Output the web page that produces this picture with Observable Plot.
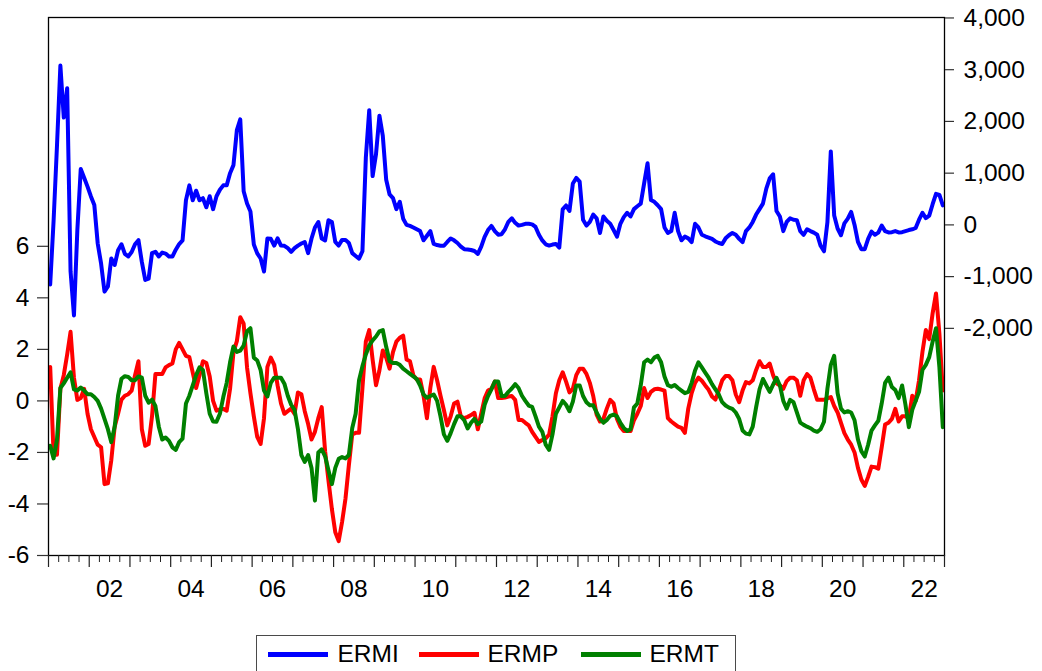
<!DOCTYPE html>
<html><head><meta charset="utf-8">
<script src="https://cdn.jsdelivr.net/npm/d3@7"></script>
<script src="https://cdn.jsdelivr.net/npm/@observablehq/plot@0.6"></script>
<style>
body{margin:0;background:#fff;font-family:Arial,"Liberation Sans",sans-serif;}
#wrap{position:relative;width:1042px;height:671px;overflow:hidden;background:#fff;}
#legend{position:absolute;left:256px;top:635px;width:478px;height:60px;border:1.5px solid #4a4a4a;box-sizing:content-box;}
.sw{position:absolute;top:16px;width:60px;height:5px;}
.lb{position:absolute;top:4px;font-size:24.5px;line-height:28px;color:#000;white-space:nowrap;}
</style></head><body><div id="wrap"><div id="chart"></div><div id="legend"></div></div>
<script>
// Monthly observations, 2001M01 .. 2022M12
const startYear = 2001;
const ermi = [
 -1150, 80, 1530, 3080, 2075, 2640, -900, -1750, -100, 1080, 910, 740,
 550, 385, -360, -750, -1290, -1190, -650, -775, -490, -375, -560, -610,
 -525, -375, -295, -715, -1065, -1040, -545, -520, -610, -535, -555, -613,
 -613, -480, -370, -300, 476, 764, 476, 660, 476, 516, 340, 553,
 304, 553, 680, 764, 764, 1000, 1155, 1830, 2040, 650, 412, 260,
 -380, -550, -650, -900, -263, -270, -400, -260, -400, -404, -450, -520,
 -450, -400, -360, -330, -545, -263, -50, 56, -263, -300, 91, 56,
 -330, -400, -290, -290, -350, -546, -600, -652, -510, 1300, 2218, 943,
 1368, 2112, 1722, 872, 588, 517, 305, 447, 120, 0, -20, -50,
 -85, -120, -298, -210, -120, -368, -390, -404, -404, -330, -262, -298,
 -350, -420, -470, -475, -485, -505, -560, -420, -230, -100, -20, -120,
 -190, -180, -85, 60, 128, 40, -14, 0, 21, 21, 10, -40,
 -190, -300, -375, -400, -380, -369, -439, 300, 376, 269, 801, 907,
 836, 100, -14, 57, 198, 128, -156, 163, 80, 21, -100, -227,
 21, 150, 234, 163, 305, 360, 411, 801, 1191, 482, 446, 380,
 305, -50, -156, -120, 234, -120, -298, -227, -260, -333, 21, -50,
 -191, -220, -245, -270, -320, -350, -369, -260, -200, -156, -190, -270,
 -333, -120, -50, 57, 200, 305, 411, 700, 900, 978, 269, 163,
 -120, 57, 128, 100, 92, -120, -191, -85, -120, -150, -191, -404,
 -510, 50, 1420, 180, -70, -200, 30, 120, 250, 0, -330, -470,
 -470, -270, -130, -190, -150, -14, -120, -145, -140, -120, -145, -140,
 -120, -100, -85, -60, 100, 234, 130, 180, 400, 600, 580, 376
];
const ermp = [
 1.32, -2.09, -2.09, 0.47, 1.0, 1.8, 2.68, 0.9, 0.04, 0.11, 0.47, -0.5,
 -1.1, -1.4, -1.7, -1.8, -3.23, -3.2, -2.3, -1.0, -0.5, 0.05, 0.2, 0.26,
 0.4, 1.0, 1.54, -1.1, -1.74, -1.67, -0.6, 1.04, 1.04, 1.04, 1.3, 1.39,
 1.45, 2.0, 2.25, 2.0, 1.75, 1.7, 1.1, 0.5, 1.0, 1.54, 1.47, 0.95,
 0.0, -0.38, -0.33, -0.31, -0.38, 0.47, 1.89, 2.32, 3.25, 3.0, 1.3, 0.3,
 -0.6, -1.4, -1.67, -0.67, 1.32, 1.68, 1.4, 0.6, -0.1, -0.5, -0.4, -0.3,
 -0.5, 0.33, 0.26, -0.4, -0.9, -1.5, -1.2, -0.67, -0.24, -1.95, -3.1, -4.2,
 -5.1, -5.44, -4.7, -3.8, -2.5, -1.3, -1.24, -1.24, 0.5, 2.3, 2.75, 1.6,
 0.61, 1.18, 1.96, 1.68, 1.25, 1.89, 2.3, 2.45, 2.53, 1.61, 1.54, 1.0,
 0.83, 0.83, 0.2, -0.67, 0.5, 1.32, 0.8, 0.2, -0.35, -0.95, -0.6, -0.1,
 -0.03, -0.6, -0.67, -0.62, -0.55, -0.46, -1.1, -0.5, 0.1, 0.4, 0.47, 0.75,
 0.11, 0.11, 0.13, 0.17, 0.19, 0.04, -0.74, -0.74, -0.85, -0.95, -1.2, -1.4,
 -1.59, -1.52, -1.45, -1.31, -0.6, 0.3, 0.8, 1.11, 0.75, 0.33, 0.47, 1.0,
 1.25, 1.25, 1.05, 0.7, 0.19, -0.53, -0.8, -0.7, -0.3, 0.04, -0.1, -0.7,
 -1.0, -1.17, -1.17, -1.17, -0.75, -0.5, -0.2, 0.5, 0.11, 0.35, 0.45, 0.47,
 0.44, 0.4, -0.67, -0.8, -0.9, -1.0, -1.05, -1.24, -0.3, 0.3, 0.7, 0.9,
 0.78, 0.6, 0.43, 0.17, 0.05, 0.4, 0.8, 0.97, 0.97, 0.8, 0.25, -0.05,
 0.4, 0.73, 0.68, 0.8, 1.2, 1.54, 1.32, 1.32, 1.45, 1.0, 0.68, 0.6,
 0.47, 0.77, 0.9, 0.9, 0.8, 0.2, 0.8, 1.04, 0.9, 0.45, 0.04, 0.04,
 0.04, 0.1, 0.15, -0.2, -0.45, -0.85, -1.25, -1.5, -1.7, -2.0, -2.6, -3.05,
 -3.3, -2.95, -2.55, -2.57, -2.63, -1.8, -0.92, -0.85, -0.7, -0.31, -0.8, -0.6,
 -0.6, -0.67, 0.2, 0.0, 0.8, 1.9, 2.75, 2.4, 3.4, 4.17, 2.6, 0.4
];
const ermt = [
 -1.74, -2.23, -1.5, 0.5, 0.68, 0.9, 1.11, 0.45, 0.4, 0.52, 0.4, 0.26,
 0.26, 0.15, 0.0, -0.3, -0.7, -1.1, -1.6, -1.0, 0.2, 0.86, 0.96, 0.93,
 0.8, 0.8, 0.95, 0.9, 0.2, -0.07, 0.05, -0.2, -1.0, -1.5, -1.42, -1.55,
 -1.8, -1.9, -1.6, -1.46, -0.1, 0.2, 0.6, 1.0, 1.3, 1.2, 0.3, -0.5,
 -0.8, -0.81, -0.5, 0.15, 0.7, 1.5, 2.11, 1.9, 1.95, 2.15, 2.7, 2.82,
 1.68, 1.57, 1.2, 0.4, 0.17, 0.7, 0.9, 0.9, 0.9, 0.67, 0.2, -0.15,
 -0.35, -1.1, -2.1, -2.37, -2.1, -2.6, -3.87, -2.0, -1.88, -2.15, -2.7, -3.23,
 -2.6, -2.25, -2.18, -2.23, -2.1, -1.05, -0.5, 0.8, 1.35, 1.8, 2.15, 2.35,
 2.5, 2.7, 2.75, 2.1, 1.54, 1.47, 1.47, 1.4, 1.25, 1.15, 1.05, 0.95,
 0.85, 0.6, 0.25, 0.12, 0.19, 0.25, 0.0, -0.6, -1.3, -1.55, -1.25, -0.9,
 -0.6, -0.6, -0.75, -1.07, -0.85, -0.7, -0.9, -0.8, -0.15, 0.19, 0.45, 0.75,
 0.75, 0.19, 0.19, 0.35, 0.48, 0.65, 0.5, 0.2, 0.0, -0.18, -0.23, -0.6,
 -1.0, -1.2, -1.7, -1.9, -1.3, -0.5, -0.25, 0.0, -0.15, -0.4, -0.03, 0.6,
 0.6, 0.19, -0.05, -0.17, -0.17, -0.45, -0.7, -0.85, -0.74, -0.58, -0.53, -0.6,
 -0.85, -1.05, -1.17, -1.1, -0.25, -0.1, 0.6, 1.5, 1.6, 1.5, 1.68, 1.75,
 1.5, 0.95, 0.61, 0.55, 0.62, 0.5, 0.4, 0.3, 0.35, 0.7, 1.18, 1.5,
 1.3, 1.1, 0.9, 0.65, 0.45, 0.25, -0.05, -0.18, -0.26, -0.31, -0.45, -0.7,
 -1.15, -1.27, -1.3, -1.0, -0.24, 0.45, 0.85, 0.6, 0.35, 0.63, 0.9, 0.6,
 0.0, -0.3, 0.04, -0.05, -0.45, -0.84, -0.93, -1.0, -1.06, -1.15, -1.2, -1.1,
 -0.81, 0.47, 1.4, 1.75, 0.3, -0.3, -0.45, -0.4, -0.45, -0.75, -1.5, -1.95,
 -2.16, -1.7, -1.15, -0.95, -0.77, -0.1, 0.7, 0.9, 0.54, 0.42, 0.11, 0.6,
 -0.15, -1.02, -0.35, 0.0, 0.35, 1.2, 1.4, 1.7, 2.3, 2.82, 1.3, -1.02
];
const seriesNames = ["ERMI", "ERMP", "ERMT"];
const seriesColors = ["#0000ff", "#ff0000", "#008000"];
const leftTicks = [-6, -4, -2, 0, 2, 4, 6];
const rightTicks = [-2000, -1000, 0, 1000, 2000, 3000, 4000];
const yearLabels = ["02", "04", "06", "08", "10", "12", "14", "16", "18", "20", "22"];

// right-axis (ERMI) to left-axis units
const L0 = 6.831, K = 0.0020078;
const toL = v => L0 + v * K;
const fromL = d => (d - L0) / K;

const t = i => startYear + (i + 0.5) / 12;
const rowsI = ermi.map((v, i) => ({t: t(i), v: toL(v)}));
const rowsP = ermp.map((v, i) => ({t: t(i), v}));
const rowsT = ermt.map((v, i) => ({t: t(i), v}));

const years = d3.range(2001, 2024);
const quarters = d3.range(2001, 2023).flatMap(y => [y + 0.25, y + 0.5, y + 0.75]);
const labelPos = yearLabels.map(s => 2000 + (+s) + 0.5);
const fmtHyphen = d => String(d).replace("\u2212", "-");

const font = "Arial, 'Liberation Sans', sans-serif";
const FS = 24.5;
const chart = Plot.plot({
  width: 1042, height: 610,
  marginLeft: 48, marginRight: 98, marginTop: 17, marginBottom: 55,
  style: {fontFamily: font, fontSize: FS + "px", color: "#000", background: "#fff"},
  x: {domain: [2001, 2023], label: null},
  y: {domain: [-6, 14.88], label: null},
  marks: [
    Plot.lineY(rowsI, {x: "t", y: "v", stroke: seriesColors[0], strokeWidth: 4, strokeLinejoin: "round"}),
    Plot.lineY(rowsP, {x: "t", y: "v", stroke: seriesColors[1], strokeWidth: 4, strokeLinejoin: "round"}),
    Plot.lineY(rowsT, {x: "t", y: "v", stroke: seriesColors[2], strokeWidth: 4, strokeLinejoin: "round"}),
    Plot.frame({stroke: "#000", strokeWidth: 1.3}),
    Plot.axisY(leftTicks, {anchor: "left", tickSize: 11, tickPadding: 8, fontSize: FS, label: null,
      tickFormat: d => fmtHyphen(d), stroke: "#333", strokeWidth: 1.2, fill: "#000"}),
    Plot.axisY(rightTicks.map(toL), {anchor: "right", tickSize: 9, tickPadding: 10, fontSize: FS, label: null,
      tickFormat: d => Math.round(fromL(d)).toLocaleString("en-US"), stroke: "#333", strokeWidth: 1.2, fill: "#000"}),
    Plot.axisX(years, {anchor: "bottom", tickSize: 12, tickFormat: () => "", label: null, stroke: "#222", strokeWidth: 1.2}),
    Plot.axisX(quarters, {anchor: "bottom", tickSize: 7, tickFormat: () => "", label: null, stroke: "#222", strokeWidth: 1}),
    Plot.axisX(labelPos, {anchor: "bottom", tickSize: 0, tickPadding: 24, fontSize: FS, label: null, fill: "#000",
      tickFormat: d => yearLabels[Math.round((d - 2002.5) / 2)]})
  ]
});
document.getElementById("chart").appendChild(chart);

// legend below the chart
const legend = document.getElementById("legend");
const swLeft = [10.5, 161.5, 323.5];
const lbLeft = [80.5, 230.5, 392.5];
seriesNames.forEach((name, i) => {
  const sw = document.createElement("div");
  sw.className = "sw"; sw.style.left = swLeft[i] + "px"; sw.style.background = seriesColors[i];
  const lb = document.createElement("div");
  lb.className = "lb"; lb.style.left = lbLeft[i] + "px"; lb.textContent = name;
  legend.appendChild(sw); legend.appendChild(lb);
});
</script></body></html>
